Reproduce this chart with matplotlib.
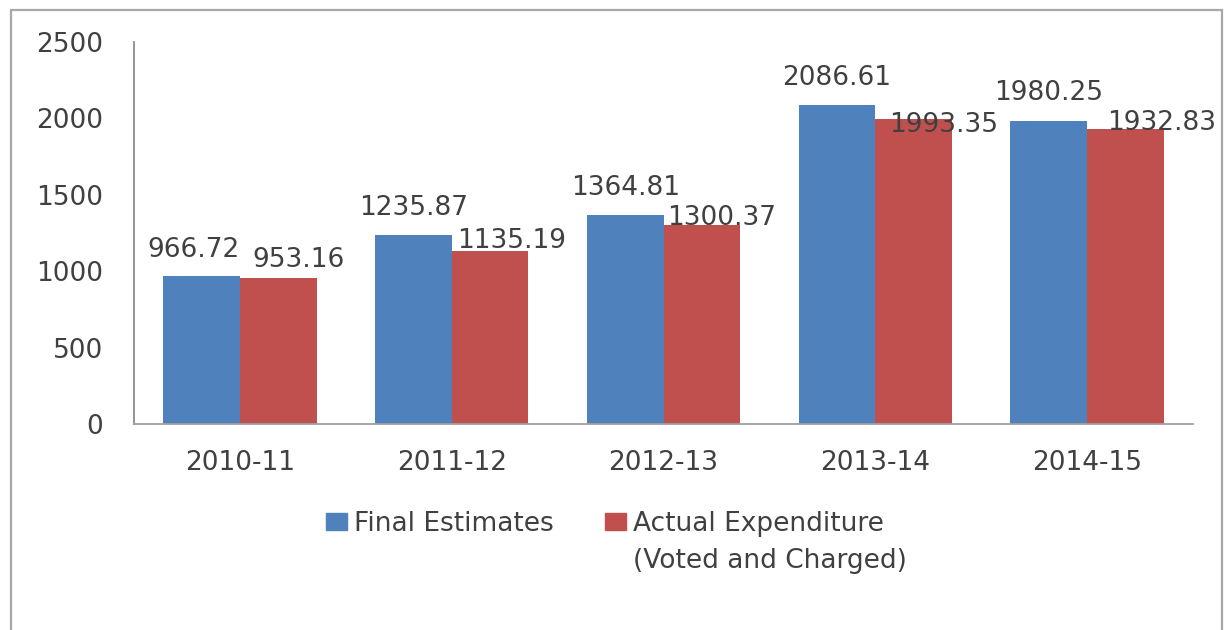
import matplotlib.pyplot as plt
import numpy as np
from matplotlib.patches import Patch, Rectangle

years = ["2010-11", "2011-12", "2012-13", "2013-14", "2014-15"]
final_estimates = [966.72, 1235.87, 1364.81, 2086.61, 1980.25]
actual_expenditure = [953.16, 1135.19, 1300.37, 1993.35, 1932.83]

# label nudges in pixels (dx, dy above bar top) so the numbers don't collide
final_nudge = [(-8, 19), (0, 20), (0, 20), (0, 20), (0, 21)]
actual_nudge = [(20, 11), (22, 3), (20, 0), (30, -13), (36, -1)]

blue = "#4F81BD"
red = "#C0504D"
txt = "#404040"
W, H = 1227, 630

plt.rcParams["font.family"] = "DejaVu Sans"
fig = plt.figure(figsize=(W / 100, H / 100), dpi=100)
fig.patch.set_facecolor("white")

# chart area frame
fig.add_artist(Rectangle((11 / W, -0.05), (1222 - 11) / W, 1 - 10 / H + 0.05,
                         transform=fig.transFigure, fill=False,
                         edgecolor="#A8A8A8", lw=1.6))

ax = fig.add_axes([134 / W, 1 - 424 / H, (1193 - 134) / W, (424 - 42) / H])

x = np.arange(len(years))
w = 0.362
b1 = ax.bar(x - w / 2, final_estimates, w, color=blue)
b2 = ax.bar(x + w / 2, actual_expenditure, w, color=red)

ax.set_xlim(-0.5, len(years) - 0.5)
ax.set_ylim(0, 2500)
ax.set_yticks(np.arange(0, 2501, 500))
ax.set_xticks(x)
ax.set_xticklabels(years)
ax.tick_params(axis="y", length=0, pad=22, labelsize=19, labelcolor=txt)
ax.tick_params(axis="x", length=0, pad=19, labelsize=19, labelcolor=txt)

for s in ["top", "right"]:
    ax.spines[s].set_visible(False)
ax.spines["left"].set_color("#8C8C8C")
ax.spines["bottom"].set_color("#A0A0A0")
ax.spines["left"].set_linewidth(1.3)
ax.spines["bottom"].set_linewidth(1.3)

for xi, v, (dx, dy) in zip(x - w / 2, final_estimates, final_nudge):
    ax.annotate(f"{v:.2f}", xy=(xi, v), xytext=(dx * 0.72, dy * 0.72),
                textcoords="offset points", ha="center", va="baseline",
                fontsize=19, color=txt)
for xi, v, (dx, dy) in zip(x + w / 2, actual_expenditure, actual_nudge):
    ax.annotate(f"{v:.2f}", xy=(xi, v), xytext=(dx * 0.72, dy * 0.72),
                textcoords="offset points", ha="center", va="baseline",
                fontsize=19, color=txt)

handles = [Patch(color=blue), Patch(color=red)]
leg = fig.legend(handles, ["Final Estimates", "Actual Expenditure"],
                 loc="center left", bbox_to_anchor=(326 / W, 1 - 524 / H),
                 ncol=2, frameon=False, fontsize=19, borderpad=0,
                 borderaxespad=0, handlelength=0.8, handleheight=0.6,
                 handletextpad=0.25, columnspacing=1.95)
for t in leg.get_texts():
    t.set_color(txt)

# second line of the red legend entry, under its first line
fig.canvas.draw()
bb = leg.get_texts()[1].get_window_extent()
fig.text(bb.x0 / W, (bb.y0 - 37) / H, "(Voted and Charged)",
         fontsize=19, color=txt, ha="left", va="bottom")

fig.savefig("out.png", dpi=100)
